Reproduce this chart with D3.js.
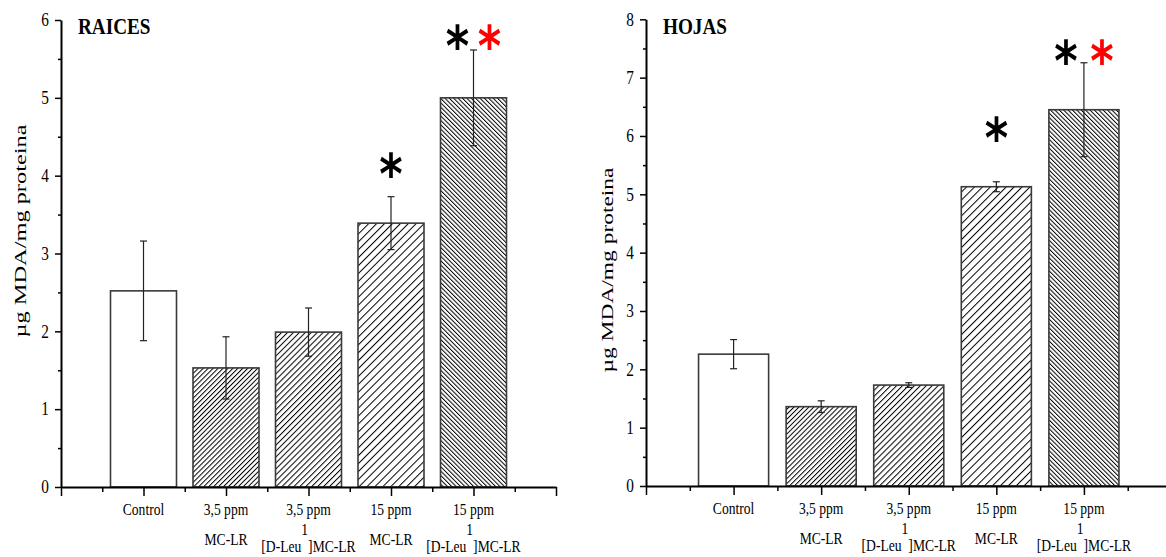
<!DOCTYPE html>
<html lang="es">
<head>
<meta charset="UTF-8">
<title>MDA raices / hojas</title>
<script src="https://d3js.org/d3.v7.min.js"></script>
<style>
  body { margin: 0; background: #fff; }
  svg { display: block; }
  text { font-family: "Liberation Serif", "Times New Roman", serif; }
  .star { font-family: "DejaVu Sans", sans-serif; font-weight: bold; }
</style>
</head>
<body>
<svg id="chart" width="1166" height="557"></svg>
<script>
// categories (two label lines, "^1" marks the superscript)
const labelLine1 = ["Control", "3,5 ppm", "3,5 ppm", "15 ppm", "15 ppm"];
const labelLine2 = ["", "MC-LR", "[D-Leu^1]MC-LR", "MC-LR", "[D-Leu^1]MC-LR"];
const hatchKinds = ["none", "fwdDense", "fwdMed", "fwdWide", "backDense"];

// RAICES
const raicesMean = [2.52, 1.53, 1.99, 3.39, 5.00];
const raicesErr  = [0.64, 0.40, 0.31, 0.34, 0.615];
const raicesTicks = [0, 1, 2, 3, 4, 5, 6];
const raicesStars = [
  { cat: 3, level: 4.16, colors: ["#000"] },
  { cat: 4, level: 5.81, colors: ["#000", "#ff0000"] }
];

// HOJAS
const hojasMean = [2.26, 1.36, 1.73, 5.13, 6.45];
const hojasErr  = [0.25, 0.10, 0.04, 0.085, 0.805];
const hojasTicks = [0, 1, 2, 3, 4, 5, 6, 7, 8];
const hojasStars = [
  { cat: 3, level: 6.16, colors: ["#000"] },
  { cat: 4, level: 7.48, colors: ["#000", "#ff0000"] }
];

const svg = d3.select("#chart");
const SX = 0.8; // horizontal squeeze of the original figure

// hatch patterns
const defs = svg.append("defs");
const hatch = [
  { id: "fwdDense", gap: 3.5, angle: 45 },
  { id: "fwdMed", gap: 4.2, angle: 45 },
  { id: "fwdWide", gap: 5.6, angle: 45 },
  { id: "backDense", gap: 3.1, angle: -45 }
];
hatch.forEach(h => {
  const p = defs.append("pattern")
    .attr("id", h.id)
    .attr("patternUnits", "userSpaceOnUse")
    .attr("width", h.gap)
    .attr("height", 10)
    .attr("patternTransform", `rotate(${h.angle})`);
  p.append("rect").attr("width", h.gap).attr("height", 10).attr("fill", "#fff");
  p.append("line")
    .attr("x1", 0.5).attr("x2", 0.5).attr("y1", 0).attr("y2", 10)
    .attr("stroke", "#000").attr("stroke-width", 1);
});

function drawPanel(opt) {
  const g = svg.append("g").attr("transform", `translate(${opt.left},0)`);

  const x = d3.scaleLinear().domain([0, 6]).range([0, opt.width]);
  const y = d3.scaleLinear().domain([0, opt.ticks[opt.ticks.length - 1]]).range([opt.bottom, opt.top]);
  const bw = 0.8 * (x(1) - x(0));

  // bars
  g.selectAll("rect.bar")
    .data(opt.mean)
    .enter()
    .append("rect")
    .attr("class", "bar")
    .attr("x", (d, i) => x(i + 1) - bw / 2)
    .attr("y", d => y(d))
    .attr("width", bw)
    .attr("height", d => y(0) - y(d))
    .attr("fill", (d, i) => hatchKinds[i] === "none" ? "#fff" : `url(#${hatchKinds[i]})`)
    .attr("stroke", "#3a3a3a")
    .attr("stroke-width", 1.6);

  // error bars
  const eb = g.selectAll("g.err")
    .data(opt.mean)
    .enter()
    .append("g")
    .attr("class", "err")
    .attr("stroke", "#222")
    .attr("stroke-width", 1.2);
  eb.append("line")
    .attr("x1", (d, i) => x(i + 1)).attr("x2", (d, i) => x(i + 1))
    .attr("y1", (d, i) => y(d + opt.err[i])).attr("y2", (d, i) => y(d - opt.err[i]));
  eb.append("line")
    .attr("x1", (d, i) => x(i + 1) - 3.5).attr("x2", (d, i) => x(i + 1) + 3.5)
    .attr("y1", (d, i) => y(d + opt.err[i])).attr("y2", (d, i) => y(d + opt.err[i]));
  eb.append("line")
    .attr("x1", (d, i) => x(i + 1) - 3.5).attr("x2", (d, i) => x(i + 1) + 3.5)
    .attr("y1", (d, i) => y(d - opt.err[i])).attr("y2", (d, i) => y(d - opt.err[i]));

  // y axis
  const minorY = opt.ticks.slice(0, -1).map(t => t + 0.5);
  g.append("g")
    .call(d3.axisLeft(y).tickValues(minorY).tickSize(3).tickFormat("").tickSizeOuter(0))
    .call(a => a.select(".domain").remove())
    .selectAll("line").attr("stroke-width", 1.5);
  const ya = g.append("g")
    .call(d3.axisLeft(y).tickValues(opt.ticks).tickFormat(d3.format("d")).tickSize(6).tickSizeOuter(0));
  ya.select(".domain").attr("stroke-width", 2);
  ya.selectAll("line").attr("stroke-width", 1.5);
  ya.selectAll("text")
    .attr("font-family", "Liberation Serif, serif")
    .attr("font-size", 18)
    .attr("x", -12 / 0.85)
    .attr("transform", "scale(0.85,1)");

  // x axis
  const xa = g.append("g").attr("transform", `translate(0,${opt.bottom})`);
  xa.call(d3.axisBottom(x).tickValues([0.5, 1.5, 2.5, 3.5, 4.5, 5.5]).tickSize(5).tickFormat("").tickSizeOuter(0))
    .call(a => a.select(".domain").remove())
    .selectAll("line").attr("stroke-width", 1.5);
  const xb = g.append("g").attr("transform", `translate(0,${opt.bottom})`)
    .call(d3.axisBottom(x).tickValues([0, 1, 2, 3, 4, 5, 6]).tickSize(9).tickFormat("").tickSizeOuter(0));
  xb.select(".domain").attr("stroke-width", 2);
  xb.selectAll("line").attr("stroke-width", 1.5);

  // category labels
  labelLine1.forEach((l1, i) => {
    g.append("g")
      .attr("transform", `translate(${x(i + 1)},${opt.bottom + 28})`)
      .append("text")
      .attr("transform", `scale(${SX},1)`)
      .attr("text-anchor", "middle")
      .attr("font-size", 17)
      .text(l1);
    const l2 = labelLine2[i];
    if (!l2) return;
    const sup = l2.includes("^");
    const t = g.append("g")
      .attr("transform", `translate(${x(i + 1)},${opt.bottom + (sup ? 65 : 58)})`)
      .append("text")
      .attr("transform", `scale(${SX},1)`)
      .attr("text-anchor", "middle")
      .attr("font-size", 17);
    if (sup) {
      const parts = l2.split("^1");
      t.append("tspan").text(parts[0]);
      t.append("tspan").attr("dy", -17).text("1");
      t.append("tspan").attr("dy", 17).text(parts[1]);
    } else {
      t.text(l2);
    }
  });

  // title
  g.append("g")
    .attr("transform", `translate(${opt.titleX},34)`)
    .append("text")
    .attr("transform", `scale(${SX},1)`)
    .attr("font-size", 24)
    .attr("font-weight", "bold")
    .text(opt.title);

  // y label
  g.append("g")
    .attr("transform", `translate(${opt.labelX},${opt.labelY}) scale(0.75,1) rotate(-90)`)
    .append("text")
    .attr("text-anchor", "middle")
    .attr("dy", "0.35em")
    .attr("font-size", 21)
    .attr("textLength", opt.labelLen)
    .attr("lengthAdjust", "spacingAndGlyphs")
    .text("µg MDA/mg proteina");

  // significance stars
  opt.stars.forEach(s => {
    s.colors.forEach((c, k) => {
      const off = s.colors.length === 1 ? 0 : (k === 0 ? -opt.starGap : opt.starGap);
      g.append("g")
        .attr("transform", `translate(${x(s.cat + 1) + off},${y(s.level)})`)
        .append("text")
        .attr("class", "star")
        .attr("transform", `scale(${SX},1)`)
        .attr("text-anchor", "middle")
        .attr("dy", 30)
        .attr("font-size", 56)
        .style("fill", c)
        .text("*");
    });
  });
}

drawPanel({
  title: "RAICES", left: 61, width: 495, top: 20, bottom: 487,
  mean: raicesMean, err: raicesErr, ticks: raicesTicks, stars: raicesStars,
  titleX: 17, labelX: -41, labelY: 231, labelLen: 213, starGap: 16
});

drawPanel({
  title: "HOJAS", left: 646, width: 525.5, top: 19.3, bottom: 486,
  mean: hojasMean, err: hojasErr, ticks: hojasTicks, stars: hojasStars,
  titleX: 17, labelX: -39, labelY: 270, labelLen: 205, starGap: 18
});
</script>
</body>
</html>
